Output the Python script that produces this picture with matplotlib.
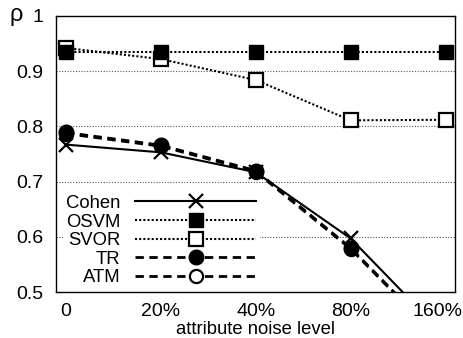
import matplotlib
matplotlib.use("Agg")
import matplotlib.pyplot as plt
from matplotlib.transforms import ScaledTranslation

plt.rcParams["font.family"] = ["Liberation Sans", "DejaVu Sans"]

# noise levels (categorical positions)
noise_labels = ["0", "20%", "40%", "80%", "160%"]

cohen = [0.767, 0.753, 0.717, 0.597, 0.42]
osvm = [0.934, 0.934, 0.934, 0.934, 0.934]
svor = [0.942, 0.922, 0.884, 0.811, 0.812]
tr = [0.789, 0.766, 0.720, 0.580, 0.405]
atm = [0.787, 0.764, 0.718, 0.578, 0.403]

y_ticks = [0.5, 0.6, 0.7, 0.8, 0.9, 1.0]
y_tick_labels = ["0.5", "0.6", "0.7", "0.8", "0.9", "1"]

fig = plt.figure(figsize=(4.64, 3.38), dpi=100)
ax = fig.add_axes([0.1207, 0.136, 0.86, 0.8167])

x = list(range(len(noise_labels)))

for yv in [0.6, 0.7, 0.8, 0.9]:
    ax.axhline(yv, color="#555555", lw=0.8, ls=(0, (1, 1.5)), zorder=0)

ms = 9.5
ax.plot(x, cohen, color="black", lw=1.5, ls="-", marker="x", ms=ms + 0.5,
        mew=1.6, label="Cohen", zorder=3)
ax.plot(x, svor, color="black", lw=1.5, ls=(0, (1, 1)), marker="s", ms=ms,
        mfc="white", mew=1.6, label="SVOR", zorder=3)
ax.plot(x, osvm, color="black", lw=1.5, ls=(0, (1, 1)), marker="s", ms=ms,
        label="OSVM", zorder=4)
ax.plot(x, atm, color="black", lw=2, ls=(0, (3, 2)), marker="o", ms=ms,
        mfc="white", mew=1.6, label="ATM", zorder=3)
ax.plot(x, tr, color="black", lw=2, ls=(0, (3, 2)), marker="o", ms=ms + 1,
        label="TR", zorder=4)

ax.set_xlim(-0.105, 4.1)
ax.set_ylim(0.5, 1.0)
ax.set_xticks(x)
ax.set_xticklabels(noise_labels)
ax.set_yticks(y_ticks)
ax.set_yticklabels(y_tick_labels)
ax.tick_params(length=0, labelsize=14)
ax.tick_params(axis="x", pad=8)
ax.tick_params(axis="y", pad=9)
for s in ax.spines.values():
    s.set_linewidth(1.0)

# last tick label sits a little left so it stays inside the figure
last = ax.get_xticklabels()[-1]
last.set_transform(last.get_transform() + ScaledTranslation(-0.08, 0, fig.dpi_scale_trans))

fig.text(0.551, 0.026, "attribute noise level", fontsize=13.3,
         ha="center", va="center")
fig.text(0.02, 0.955, "\u03c1", fontsize=17, va="center", ha="left")

handles, labels = ax.get_legend_handles_labels()
order = ["Cohen", "OSVM", "SVOR", "TR", "ATM"]
hmap = dict(zip(labels, handles))
leg = ax.legend([hmap[k] for k in order], order, loc="lower left",
                bbox_to_anchor=(0.012, 0.0), markerfirst=False, frameon=True,
                fontsize=13.3, handlelength=6.6, handletextpad=0.75,
                labelspacing=0.09, borderpad=0.2, borderaxespad=0.1)
leg.get_frame().set_edgecolor("none")
leg.get_frame().set_facecolor("white")
leg.get_frame().set_alpha(1)

fig.savefig("out.png", dpi=100)
